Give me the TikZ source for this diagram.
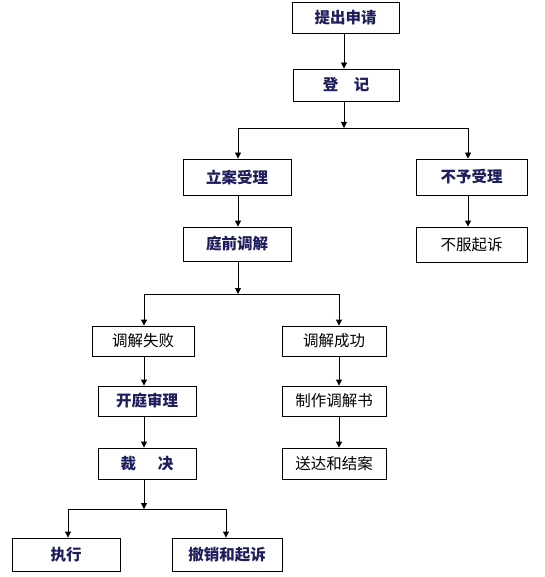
\documentclass[tikz,border=0pt]{standalone}
\usepackage{fontspec}
\newfontfamily\cjk{Noto Sans CJK SC}
\usetikzlibrary{arrows.meta}
\definecolor{navy}{HTML}{1E1E5C}
\begin{document}
\begin{tikzpicture}[x=1pt,y=-1pt,
  box/.style={draw=black,line width=0.9pt,inner sep=0pt,font=\cjk\fontsize{15.5}{18}\selectfont},
  bbox/.style={box,font=\cjk\bfseries\fontsize{15.5}{18}\selectfont,text=navy},
  arr/.style={line width=0.9pt,-{Triangle[length=6pt,width=6pt]}},
  ln/.style={line width=0.9pt}]
\useasboundingbox (0,0) rectangle (544,577);
\fill[white] (0,0) rectangle (544,577);
\node[bbox,minimum width=107pt,minimum height=31pt] (apply) at (345.5,17.5) {提出申请};
\node[bbox,minimum width=106pt,minimum height=32pt] (reg) at (346,85) {登\hspace{1em}记};
\node[bbox,minimum width=108pt,minimum height=36pt] (lian) at (237,177) {立案受理};
\node[bbox,minimum width=111pt,minimum height=36pt] (buyu) at (471.5,177) {不予受理};
\node[bbox,minimum width=108pt,minimum height=34pt] (tiqian) at (237,244) {庭前调解};
\node[box,minimum width=111pt,minimum height=35pt] (bufu) at (471.5,244.5) {不服起诉};
\node[box,minimum width=102pt,minimum height=30pt] (shibai) at (143,341) {调解失败};
\node[box,minimum width=104pt,minimum height=30pt] (cheng) at (334,341) {调解成功};
\node[bbox,minimum width=98pt,minimum height=30pt] (kaiting) at (147,401) {开庭审理};
\node[box,minimum width=104pt,minimum height=30pt] (zhizuo) at (334,401) {制作调解书};
\node[bbox,minimum width=98pt,minimum height=31pt] (caijue) at (147,463.5) {裁\hspace{1.4em}决};
\node[box,minimum width=104pt,minimum height=31pt] (songda) at (334,463.5) {送达和结案};
\node[bbox,minimum width=108pt,minimum height=33pt] (zhixing) at (66,554.5) {执行};
\node[bbox,minimum width=110pt,minimum height=33pt] (chexiao) at (227,554.5) {撤销和起诉};
% connectors
\coordinate (a1) at (344,0);
\draw[arr] (apply.south -| a1) -- (reg.north -| a1);
\coordinate (j1) at (344,128);
\draw[arr] (reg.south -| j1) -- (j1);
\coordinate (l1) at (238,0);
\coordinate (r1) at (468,0);
\draw[arr] (j1) -| (lian.north -| l1);
\draw[arr] (j1) -| (buyu.north -| r1);
\draw[arr] (lian.south -| l1) -- (tiqian.north -| l1);
\draw[arr] (buyu.south -| r1) -- (bufu.north -| r1);
\coordinate (j2) at (238,294);
\draw[arr] (tiqian.south -| j2) -- (j2);
\coordinate (l2) at (144,0);
\coordinate (r2) at (339,0);
\draw[arr] (j2) -| (shibai.north -| l2);
\draw[arr] (j2) -| (cheng.north -| r2);
\draw[arr] (shibai.south -| l2) -- (kaiting.north -| l2);
\draw[arr] (kaiting.south -| l2) -- (caijue.north -| l2);
\draw[arr] (cheng.south -| r2) -- (zhizuo.north -| r2);
\draw[arr] (zhizuo.south -| r2) -- (songda.north -| r2);
\coordinate (j3) at (144,509);
\draw[arr] (caijue.south -| j3) -- (j3);
\coordinate (l3) at (68,0);
\coordinate (r3) at (226,0);
\draw[arr] (j3) -| (zhixing.north -| l3);
\draw[arr] (j3) -| (chexiao.north -| r3);
\end{tikzpicture}
\end{document}
